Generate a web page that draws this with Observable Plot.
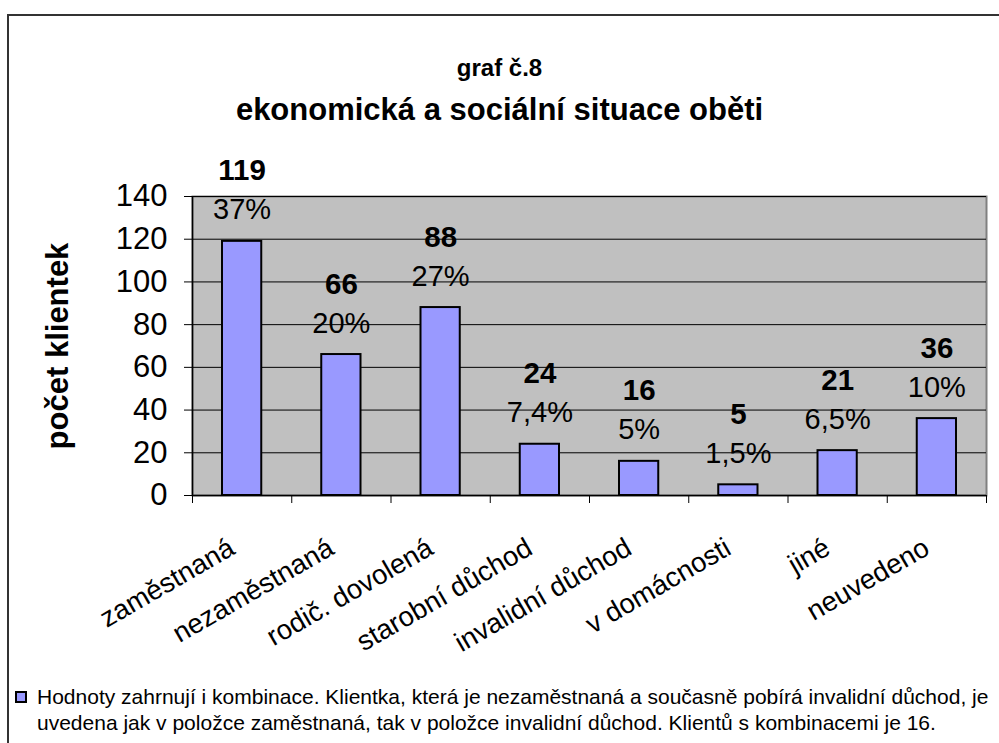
<!DOCTYPE html>
<html>
<head>
<meta charset="utf-8">
<script src="https://cdn.jsdelivr.net/npm/d3@7"></script>
<script src="https://cdn.jsdelivr.net/npm/@observablehq/plot@0.6"></script>
<style>
  html, body { margin: 0; padding: 0; background: #fff; overflow: hidden; }
  #wrap { position: relative; width: 999px; height: 743px; overflow: hidden; font-family: Arial, "Liberation Sans", sans-serif; color: #000; }
  #border { position: absolute; left: 7px; top: 14px; width: 1200px; height: 900px; border: 2px solid #333; box-sizing: border-box; }
  .t1 { position: absolute; left: 0; width: 999px; text-align: center; font-weight: bold; font-size: 24px; top: 54px; }
  .t2 { position: absolute; left: 0; width: 999px; text-align: center; font-weight: bold; font-size: 31px; top: 92px; }
  #chart { position: absolute; left: 0; top: 0; }
  #legend { position: absolute; left: 15px; top: 684px; font-size: 21px; line-height: 26px; white-space: nowrap; }
  #legend .sw { position: absolute; left: 0; top: 7px; width: 12px; height: 12px; background: #9999ff; border: 2px solid #000; box-sizing: border-box; }
  #legend .txt { position: absolute; left: 22px; top: 0; }
</style>
</head>
<body>
<div id="wrap">
  <div id="border"></div>
  <div id="chart"></div>
  <div class="t1" id="title1"></div>
  <div class="t2" id="title2"></div>
  <div id="legend"><div class="sw"></div><div class="txt" id="legtxt"></div></div>
</div>
<script>
const titleLine1 = "graf č.8";
const titleLine2 = "ekonomická a sociální situace oběti";
const yAxisTitle = "počet klientek";
const categories = ["zaměstnaná", "nezaměstnaná", "rodič. dovolená", "starobní důchod", "invalidní důchod", "v domácnosti", "jiné", "neuvedeno"];
const counts = [119, 66, 88, 24, 16, 5, 21, 36];
const percents = ["37%", "20%", "27%", "7,4%", "5%", "1,5%", "6,5%", "10%"];
const yTicks = [0, 20, 40, 60, 80, 100, 120, 140];
const legendLines = [
  "Hodnoty zahrnují i kombinace. Klientka, která je nezaměstnaná a současně pobírá invalidní důchod, je",
  "uvedena jak v položce zaměstnaná, tak v položce invalidní důchod. Klientů s kombinacemi je 16."
];

document.getElementById("title1").textContent = titleLine1;
document.getElementById("title2").textContent = titleLine2;
document.getElementById("legtxt").innerHTML = legendLines.map(s => s.replace(/&/g,"&amp;").replace(/</g,"&lt;")).join("<br>");

const data = categories.map((c, i) => ({i, c, v: counts[i], p: percents[i]}));
const boundaries = d3.range(0, categories.length + 1);

const plot = Plot.plot({
  width: 999,
  height: 650,
  marginLeft: 192,
  marginRight: 13,
  marginTop: 196,
  marginBottom: 155,
  style: {fontFamily: "Arial, 'Liberation Sans', sans-serif", fontSize: "29px", color: "#000", background: "transparent", overflow: "visible"},
  x: {type: "linear", domain: [0, categories.length]},
  y: {domain: [0, 140]},
  marks: [
    Plot.frame({fill: "#c0c0c0", stroke: "#808080", strokeWidth: 2}),
    Plot.gridY(yTicks, {stroke: "#000", strokeOpacity: 1, strokeWidth: 1}),
    Plot.rectY(data, {x1: "i", x2: d => d.i + 1, y1: 0, y2: "v", insetLeft: 30, insetRight: 30, fill: "#9999ff", stroke: "#000", strokeWidth: 2}),
    Plot.ruleX([0], {stroke: "#000", strokeWidth: 1.5}),
    Plot.ruleY([0], {stroke: "#000", strokeWidth: 1.5}),
    Plot.axisY({ticks: yTicks, tickSize: 8, tickPadding: 17, fontSize: 31, label: null, stroke: "#000"}),
    Plot.axisX({ticks: boundaries, tickSize: 8, tickFormat: () => "", label: null, stroke: "#000"}),
    Plot.text(data, {x: d => d.i + 0.5, frameAnchor: "bottom", text: "c", rotate: -30, textAnchor: "end", lineAnchor: "middle", dy: 50, dx: -10, fontSize: 27.5}),
    Plot.text(data, {x: d => d.i + 0.5, y: "v", text: "p", lineAnchor: "bottom", dy: -22, fontSize: 29}),
    Plot.text(data, {x: d => d.i + 0.5, y: "v", text: d => String(d.v), lineAnchor: "bottom", dy: -61, fontSize: 29.5, fontWeight: "bold"}),
    Plot.text([yAxisTitle], {frameAnchor: "left", dx: -134, rotate: -90, textAnchor: "middle", lineAnchor: "middle", text: d => d, fontWeight: "bold", fontSize: 31})
  ]
});
document.getElementById("chart").appendChild(plot);
</script>
</body>
</html>
